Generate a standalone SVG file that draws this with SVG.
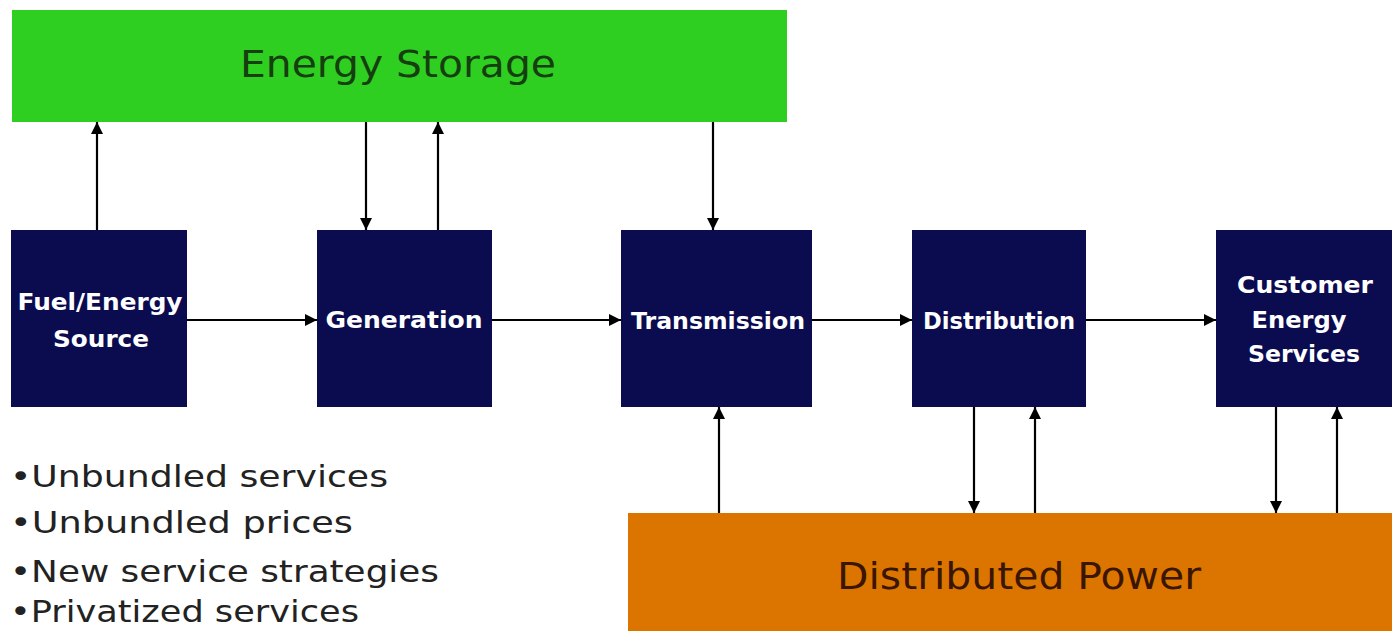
<svg xmlns="http://www.w3.org/2000/svg" width="1392" height="631" viewBox="0 0 1392 631">
<style>
.box{fill:#0b0b50}
.bt{font-family:"DejaVu Sans","Liberation Sans",sans-serif;font-weight:bold;font-size:23px;fill:#ffffff;text-anchor:middle}
.bar{font-family:"DejaVu Sans","Liberation Sans",sans-serif;font-size:38px;text-anchor:middle}
.bul{font-family:"DejaVu Sans","Liberation Sans",sans-serif;font-size:30px;fill:#222222}
.c{stroke:#000;stroke-width:2.2;fill:none;marker-end:url(#ah)}
</style>
<defs>
<marker id="ah" viewBox="0 0 10 10" refX="10" refY="5" markerWidth="5.5" markerHeight="5.5" markerUnits="strokeWidth" orient="auto">
<path d="M0,0 L10,5 L0,10 z" fill="#000"/>
</marker>
</defs>
<rect width="1392" height="631" fill="#ffffff"/>
<g id="energy-storage">
<rect x="12" y="10" width="775" height="112" fill="#2fcf22"/>
<text class="bar" x="398" y="77" fill="#163f10" textLength="316" lengthAdjust="spacingAndGlyphs">Energy Storage</text>
</g>
<g id="distributed-power">
<rect x="628" y="513" width="764" height="118" fill="#dc7500"/>
<text class="bar" x="1019" y="589" fill="#3a1500" textLength="364" lengthAdjust="spacingAndGlyphs">Distributed Power</text>
</g>
<g id="fuel">
<rect class="box" x="11" y="230" width="176" height="177"/>
<text class="bt" x="100" y="310" textLength="165" lengthAdjust="spacingAndGlyphs">Fuel/Energy</text>
<text class="bt" x="101" y="347" textLength="96" lengthAdjust="spacingAndGlyphs">Source</text>
</g>
<g id="generation">
<rect class="box" x="317" y="230" width="175" height="177"/>
<text class="bt" x="404" y="328" textLength="157" lengthAdjust="spacingAndGlyphs">Generation</text>
</g>
<g id="transmission">
<rect class="box" x="621" y="230" width="191" height="177"/>
<text class="bt" x="718" y="329" textLength="174" lengthAdjust="spacingAndGlyphs">Transmission</text>
</g>
<g id="distribution">
<rect class="box" x="912" y="230" width="174" height="177"/>
<text class="bt" x="999" y="329" textLength="152" lengthAdjust="spacingAndGlyphs">Distribution</text>
</g>
<g id="customer">
<rect class="box" x="1216" y="230" width="176" height="177"/>
<text class="bt" x="1305" y="293" textLength="136" lengthAdjust="spacingAndGlyphs">Customer</text>
<text class="bt" x="1299" y="328" textLength="95" lengthAdjust="spacingAndGlyphs">Energy</text>
<text class="bt" x="1304" y="362" textLength="112" lengthAdjust="spacingAndGlyphs">Services</text>
</g>
<g id="bullets">
<text class="bul" x="10" y="487" textLength="378" lengthAdjust="spacingAndGlyphs">•Unbundled services</text>
<text class="bul" x="10" y="533" textLength="343" lengthAdjust="spacingAndGlyphs">•Unbundled prices</text>
<text class="bul" x="10" y="582" textLength="429" lengthAdjust="spacingAndGlyphs">•New service strategies</text>
<text class="bul" x="10" y="622" textLength="349" lengthAdjust="spacingAndGlyphs">•Privatized services</text>
</g>
<g id="connectors">
<line class="c" x1="97" y1="230" x2="97" y2="122"/>
<line class="c" x1="366" y1="122" x2="366" y2="230"/>
<line class="c" x1="438" y1="230" x2="438" y2="122"/>
<line class="c" x1="713" y1="122" x2="713" y2="230"/>
<line class="c" x1="187" y1="320" x2="317" y2="320"/>
<line class="c" x1="492" y1="320" x2="621" y2="320"/>
<line class="c" x1="812" y1="320" x2="912" y2="320"/>
<line class="c" x1="1086" y1="320" x2="1216" y2="320"/>
<line class="c" x1="719" y1="513" x2="719" y2="407"/>
<line class="c" x1="974" y1="407" x2="974" y2="513"/>
<line class="c" x1="1035" y1="513" x2="1035" y2="407"/>
<line class="c" x1="1276" y1="407" x2="1276" y2="513"/>
<line class="c" x1="1337" y1="513" x2="1337" y2="407"/>
</g>
</svg>
